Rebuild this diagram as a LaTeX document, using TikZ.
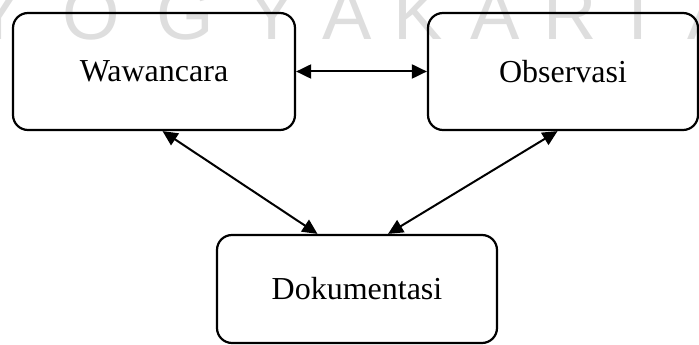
\documentclass[tikz,border=0pt]{standalone}
\usepackage{fontspec}
\setmainfont{Liberation Serif}
\newfontfamily\wmfont{Liberation Sans}
\usetikzlibrary{arrows.meta,calc}
\begin{document}
\begin{tikzpicture}[x=1pt,y=1pt,
  box/.style={draw,line width=2.2pt,rounded corners=15pt,inner sep=0pt,
    font=\fontsize{32}{38}\selectfont},
  link/.style={line width=2pt,{Triangle[length=15pt,width=14pt]}-{Triangle[length=15pt,width=14pt]}},
  wm/.style={anchor=base,inner sep=0pt,text=black!13,font=\wmfont\fontsize{74}{80}\selectfont}]
\useasboundingbox (0,0) rectangle (699,345);
% watermark
\node[wm] (w1) at (-2,305) {Y};
\node[wm] (w2) at (91,305) {O};
\node[wm] (w3) at (185,305) {G};
\node[wm] (w4) at (272,305) {Y};
\node[wm] (w5) at (347,305) {A};
\node[wm] (w6) at (418,305) {K};
\node[wm] (w7) at (495,305) {A};
\node[wm] (w8) at (570,305) {R};
\node[wm] (w9) at (638,305) {T};
\node[wm] (w10) at (712,305) {A};
% boxes
\node[box,minimum width=282pt,minimum height=117pt] (W) at (154,273.5) {Wawancara};
\node[box,minimum width=270pt,minimum height=117pt] (O) at (563,273.5) {Observasi};
\node[box,minimum width=280pt,minimum height=108pt] (D) at (357,56) {Dokumentasi};
% anchor points
\coordinate (wb) at ($(W.south west)!0.53!(W.south east)$);
\coordinate (ob) at ($(O.south west)!0.48!(O.south east)$);
\coordinate (dl) at ($(D.north west)!0.36!(D.north east)$);
\coordinate (dr) at ($(D.north west)!0.61!(D.north east)$);
% connectors
\draw[link] (W.east) -- (O.west);
\draw[link] (wb) -- (dl);
\draw[link] (ob) -- (dr);
\end{tikzpicture}
\end{document}
